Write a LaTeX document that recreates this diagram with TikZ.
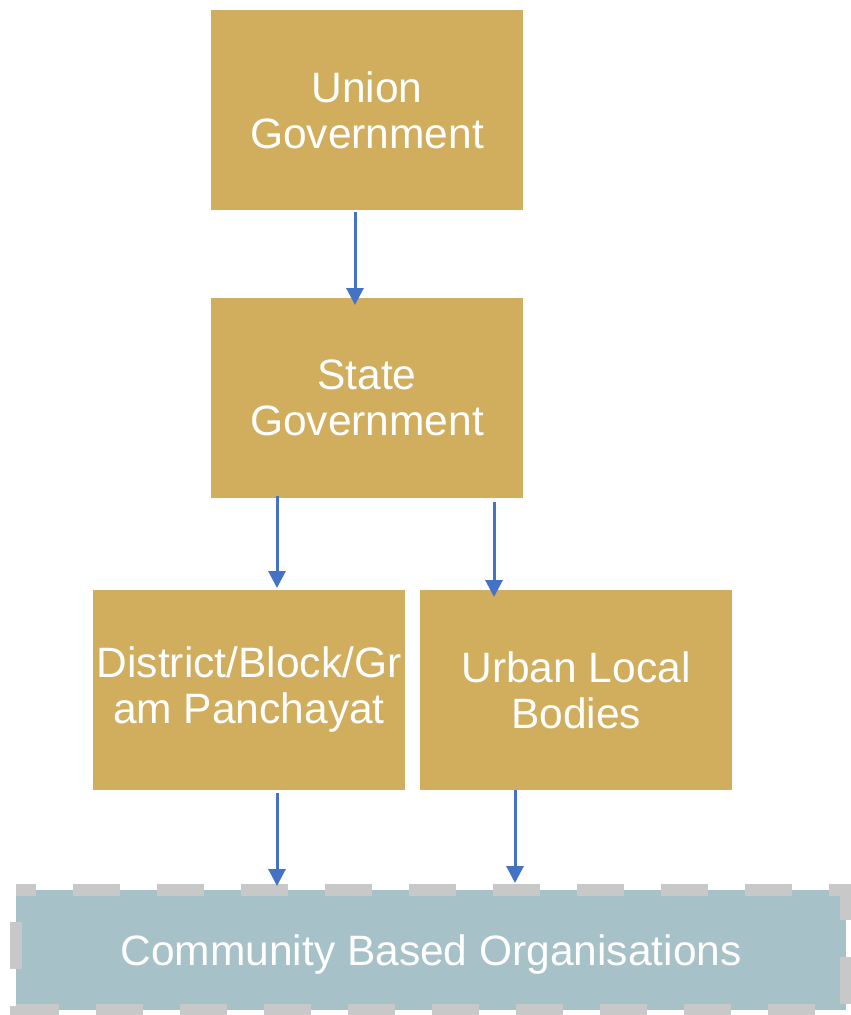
\documentclass[tikz,border=0pt]{standalone}
\usepackage{fontspec}
\setmainfont{Liberation Sans}
\usetikzlibrary{arrows.meta}
\definecolor{gold}{HTML}{D1AD5E}
\definecolor{cbofill}{HTML}{A6C1C7}
\definecolor{cboline}{HTML}{C8C8C8}
\definecolor{arrblue}{HTML}{4472C4}
\begin{document}
\begin{tikzpicture}[x=1pt,y=-1pt,
  goldbox/.style={fill=gold, draw=none, minimum width=312pt, minimum height=200pt, inner sep=0pt, outer sep=0pt, text=white, align=center, font=\fontsize{42.5}{46}\selectfont, anchor=north west},
  arr/.style={draw=arrblue, line width=3pt, -{Triangle[length=17pt,width=17pt]}}]
\useasboundingbox (0,0) rectangle (851,1015);
\node[goldbox] (union) at (211,10) {Union\\Government};
\node[goldbox] (state) at (211,298) {State\\Government};
\node[goldbox] (district) at (93,590) {District/Block/Gr\\am Panchayat};
\node[goldbox] (urban) at (420,590) {Urban Local\\Bodies};
\node[fill=cbofill, minimum width=830pt, minimum height=120pt, inner sep=0pt, outer sep=0pt, anchor=north west, text=white, text height=38pt, text depth=8pt, font=\fontsize{42.5}{46}\selectfont] (cbo) at (16,890) {Community Based Organisations};
\draw[cboline, line width=12pt, dash pattern=on 47pt off 37pt, dash phase=27pt]
  (cbo.north west) -- (cbo.north east) -- (cbo.south east) -- (cbo.south west) -- cycle;
\coordinate (c1) at (355,0);
\coordinate (c2) at (277,0);
\coordinate (c3) at (494,0);
\coordinate (c4) at (515,0);
\draw[arr] ([yshift=-2pt]union.south -| c1) -- ([yshift=-7pt]state.north -| c1);
\draw[arr] ([yshift=2pt]state.south -| c2) -- ([yshift=2pt]district.north -| c2);
\draw[arr] ([yshift=-4pt]state.south -| c3) -- ([yshift=-7pt]urban.north -| c3);
\draw[arr] ([yshift=-3pt]district.south -| c2) -- ([yshift=4pt]cbo.north -| c2);
\draw[arr] (urban.south -| c4) -- ([yshift=7pt]cbo.north -| c4);
\end{tikzpicture}
\end{document}
